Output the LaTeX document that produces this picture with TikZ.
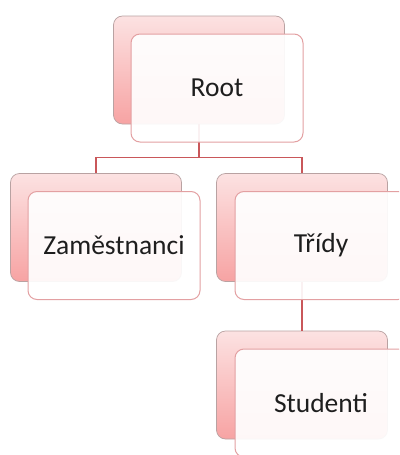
\documentclass[tikz,border=0pt]{standalone}
\usepackage{fontspec}
\setmainfont{Carlito}
\usepackage{tikz}
\definecolor{linkred}{HTML}{C9575A}
\definecolor{pinktop}{HTML}{FCE2E2}
\definecolor{pinkbot}{HTML}{F7A3A3}
\definecolor{backline}{HTML}{B9A2A2}
\definecolor{frontline}{HTML}{E3A0A2}
\definecolor{frontfill}{HTML}{FFFFFF}
\definecolor{textgray}{HTML}{1E1E1E}

\begin{document}
\begin{tikzpicture}[level distance=157.5pt]
        \tikzstyle{backbox}=[rectangle, rounded corners=9pt, minimum width=171pt, minimum height=108pt, inner sep=0pt, top color=pinktop, bottom color=pinkbot, draw=backline, line width=0.7pt]
        \tikzstyle{frontbox}=[rectangle, rounded corners=9pt, minimum width=172pt, minimum height=108pt, inner sep=0pt, fill=frontfill, fill opacity=0.92, text opacity=1, draw=frontline, draw opacity=1, line width=1pt, text=textgray, font=\fontsize{27.5}{30}\selectfont]
        \tikzstyle{level 1}=[sibling distance=206pt]
        \tikzstyle{edge from parent}=[draw=linkred, line width=1.6pt]
        \fill[white] (0,0) rectangle (399pt,-455pt);
        \useasboundingbox (0,0) rectangle (399pt,-455pt);
        \clip (0,0) rectangle (399pt,-455pt);
        \node [backbox] (root) at (199pt,-70pt) {}
            [edge from parent path={(\tikzparentnode.south) -- ++(0,-33pt) -| (\tikzchildnode.north)}]
            child {node [backbox] (staff) {}}
            child {node [backbox] (classes) {} child {node [backbox] (students) {}}};
        \node [frontbox] (rootF) at ([shift={(18pt,-18pt)}]root) {Root};
        \node [frontbox] (staffF) at ([shift={(18pt,-18pt)}]staff) {Zaměstnanci};
        \node [frontbox] (classesF) at ([shift={(19pt,-18pt)}]classes) {Třídy};
        \node [frontbox] (studentsF) at ([shift={(19pt,-18pt)}]students) {Studenti};
    \end{tikzpicture}
\end{document}
